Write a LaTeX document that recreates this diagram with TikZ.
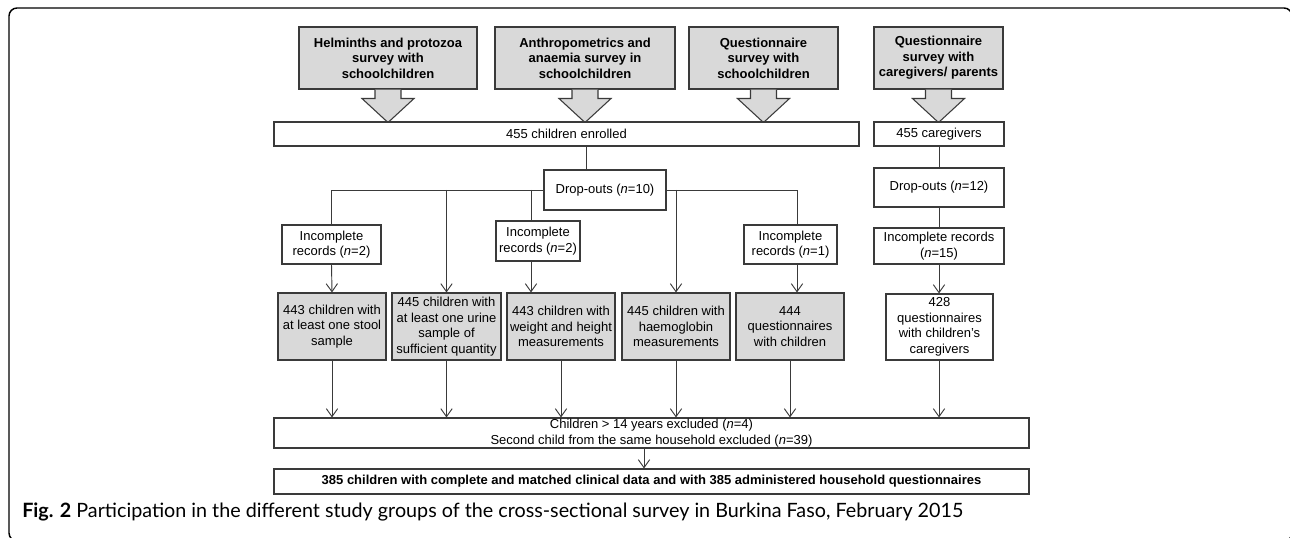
\documentclass[tikz,border=0pt]{standalone}
\usepackage{fontspec}
\setmainfont{Liberation Sans}
\newfontfamily\capfont{Lato}
\usetikzlibrary{arrows.meta}
\definecolor{boxgray}{HTML}{D9D9D9}
\definecolor{linegray}{HTML}{3A3A3A}
\newcommand\bx[7]{\node[#6, minimum width=(#4-#2)*0.75pt, minimum height=(#5-#3)*0.75pt] (#1) at ({(#2+#4)/2},{(#3+#5)/2}) {#7};}
\newcommand\barrow[1]{\path[blk] ([xshift=-9.75pt]#1.south) -- ++(0,9) -- ++(-13,0) -- ++(26,24) -- ++(26,-24) -- ++(-13,0) -- ++(0,-9);}
\begin{document}
\begin{tikzpicture}[x=0.75pt,y=-0.75pt,
 every node/.style={font=\fontsize{9.75pt}{11.7pt}\selectfont, align=center, inner sep=0pt, text=black},
 wbox/.style={draw=linegray, line width=0.8pt, fill=white, rectangle},
 gbox/.style={wbox, fill=boxgray},
 hbox/.style={gbox, font=\fontsize{9.75pt}{11.7pt}\selectfont\bfseries},
 conn/.style={draw=linegray, line width=0.7pt},
 arr/.style={conn, -{Straight Barb[length=6pt,width=8.5pt]}},
 blk/.style={draw=linegray, line width=0.8pt, fill=boxgray, line join=miter}
]
\useasboundingbox (0,0) rectangle (1290,538);
\begin{scope}
\clip (0,0) rectangle (1290,538);
\draw[line width=1.1pt, rounded corners=6pt] (9,8) rectangle (1292,541);
\end{scope}

% top survey boxes
\bx{h1}{299}{27}{477}{89}{hbox}{Helminths and protozoa\\survey with\\schoolchildren}
\bx{h2}{495}{27}{675}{89}{hbox}{Anthropometrics and\\anaemia survey in\\schoolchildren}
\bx{h3}{689}{27}{838}{89}{hbox}{Questionnaire\\survey with\\schoolchildren}
\bx{h4}{874}{27}{1003}{89}{hbox}{Questionnaire\\survey with\\caregivers/ parents}
\barrow{h1}
\barrow{h2}
\barrow{h3}
\barrow{h4}

% second row
\bx{enr}{274}{122}{859}{146}{wbox}{455 children enrolled}
\bx{care}{874}{122}{1004}{146}{wbox}{455 caregivers}
\bx{drop}{544}{170}{666}{210}{wbox}{Drop-outs (\textit{n}=10)}
\bx{drop2}{874}{168}{1004}{207}{wbox}{Drop-outs (\textit{n}=12)}

\bx{inc1}{282}{225}{381}{264}{wbox}{Incomplete\\records (\textit{n}=2)}
\bx{inc2}{496}{221}{580}{261}{wbox}{Incomplete\\records (\textit{n}=2)}
\bx{inc3}{744}{225}{837}{264}{wbox}{Incomplete\\records (\textit{n}=1)}
\bx{inc4}{874}{228}{1004}{264}{wbox}{Incomplete records\\(\textit{n}=15)}

\bx{gA}{278}{293}{386}{360}{gbox}{443 children with\\at least one stool\\sample}
\bx{gB}{392}{293}{501}{360}{gbox}{445 children with\\at least one urine\\sample of\\sufficient quantity}
\bx{gC}{507}{293}{615}{360}{gbox}{443 children with\\weight and height\\measurements}
\bx{gD}{622}{293}{730}{360}{gbox}{445 children with\\haemoglobin\\measurements}
\bx{gE}{736}{293}{844}{360}{gbox}{444\\questionnaires\\with children}
\bx{q428}{886}{294}{993}{360}{wbox}{428\\questionnaires\\with children’s\\caregivers}

\bx{excl}{274}{418}{1029}{448}{wbox}{Children > 14 years excluded (\textit{n}=4)\\Second child from the same household excluded (\textit{n}=39)}
\bx{final}{274}{469}{1029}{494}{wbox, font=\fontsize{9.75pt}{11.7pt}\selectfont\bfseries}{385 children with complete and matched clinical data and with 385 administered household questionnaires}

\node[anchor=west, font=\capfont\fontsize{14.8pt}{17pt}\selectfont] (cap) at (22,512) {\textbf{Fig. 2} Participation in the different study groups of the cross-sectional survey in Burkina Faso, February 2015};

% helper x positions
\coordinate (v0) at (586,0);
\coordinate (v2) at (531,0);
\coordinate (v3) at (797,0);
\coordinate (v4) at (644,0);

% connectors
\draw[conn] (enr.south -| v0) -- (drop.north -| v0);
\draw[conn] (drop.west) -- (drop.west -| inc1.north) -- (inc1.north);
\draw[conn] (drop.west -| v2) -- (inc2.north -| v2);
\draw[arr] (drop.west -| gB.north) -- (gB.north);
\draw[conn] (drop.east) -- (drop.east -| v3) -- (inc3.north -| v3);
\draw[arr] (drop.east -| gD.north) -- (gD.north);

\draw[arr] (inc1.south) -- (gA.north);
\draw[arr] (inc2.south -| v2) -- (gC.north -| v2);
\draw[arr] (inc3.south -| v3) -- (gE.north -| v3);

\draw[conn] (care.south) -- (care.south |- drop2.north);
\draw[conn] (drop2.south) -- (inc4.north);
\draw[arr] (inc4.south) -- (inc4.south |- q428.north);

\draw[arr] (gA.south) -- (gA.south |- excl.north);
\draw[arr] (gB.south) -- (gB.south |- excl.north);
\draw[arr] (gC.south) -- (gC.south |- excl.north);
\draw[arr] (gD.south) -- (gD.south |- excl.north);
\draw[arr] (gE.south) -- (gE.south |- excl.north);
\draw[arr] (q428.south -| inc4.south) -- (inc4.south |- excl.north);

\draw[arr] (excl.south -| v4) -- (final.north -| v4);
\end{tikzpicture}
\end{document}
